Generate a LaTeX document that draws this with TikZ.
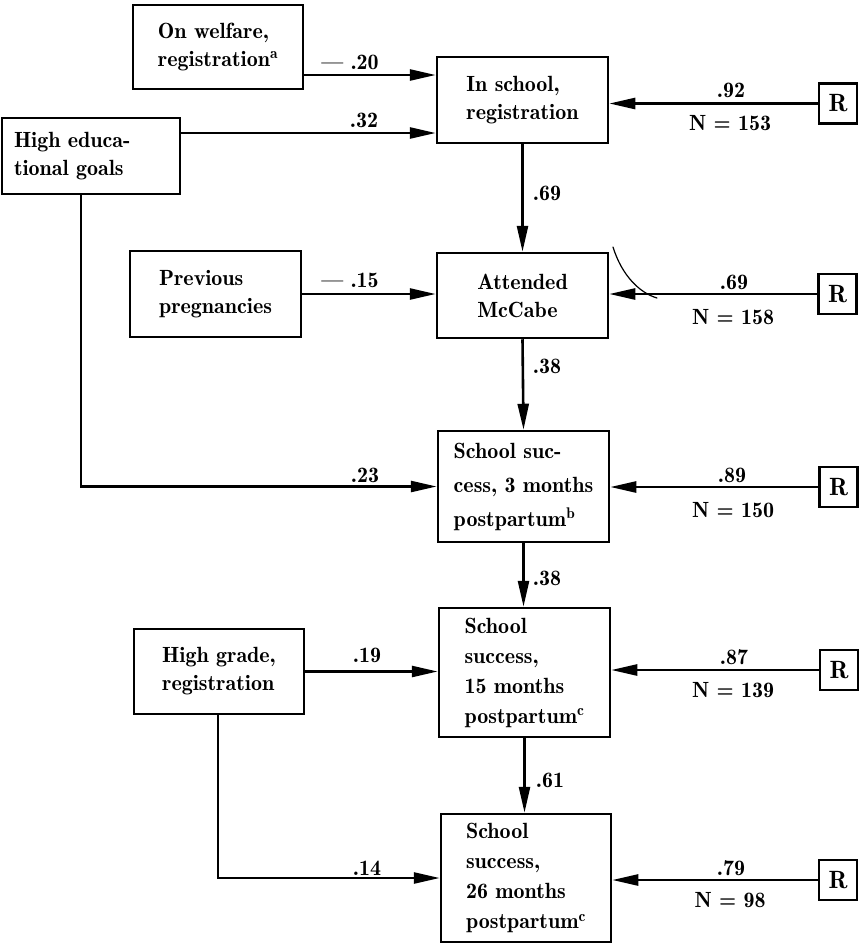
\documentclass[tikz,border=0pt]{standalone}
\usepackage{fontspec}
\setmainfont{lmromandemi10-regular.otf}
\usetikzlibrary{arrows.meta}
\newcommand{\bodysize}[1]{\fontsize{22}{#1}\selectfont}
\begin{document}
\begin{tikzpicture}[x=1pt,y=-1pt,
  every node/.style={inner sep=0pt},
  box/.style={draw, line width=2.5pt, align=left, font=\bodysize{28}},
  rbox/.style={draw, line width=2.5pt, minimum width=38pt, minimum height=40pt, font=\fontsize{25}{28}\selectfont},
  arr/.style={line width=2.6pt, -{Triangle[length=26pt,width=11pt]}},
  lbl/.style={font=\bodysize{28}},
]
\fill[white] (0,0) rectangle (859,945);
\useasboundingbox (0,0) rectangle (859,945);

% variables of the path model
\node[box, minimum width=170pt, minimum height=84pt] (welfare) at (218,47) {On welfare,\\registration\textsuperscript{a}};
\node[box, minimum width=171pt, minimum height=86pt] (inschool) at (522.5,100) {In school,\\registration};
\node[box, text width=154pt, inner xsep=12pt, minimum height=76pt] (goals) at (91,156) {High educa-\\tional goals};
\node[box, minimum width=171pt, minimum height=86pt] (prev) at (215.5,294) {Previous\\pregnancies};
\node[box, minimum width=171pt, minimum height=85pt] (attended) at (522.5,295.5) {Attended\\McCabe};
\node[box, font=\bodysize{34}, minimum width=171pt, minimum height=111pt] (ss3) at (523.5,486.5) {School suc-\\cess, 3 months\\postpartum\textsuperscript{b}};
\node[box, minimum width=170pt, minimum height=85pt] (highgrade) at (219,671.5) {High grade,\\registration};
\node[box, font=\bodysize{30}, minimum width=171pt, minimum height=129pt] (ss15) at (524.5,672.5) {School\\success,\\15 months\\postpartum\textsuperscript{c}};
\node[box, font=\bodysize{30}, minimum width=170pt, minimum height=128pt] (ss26) at (526,878) {School\\success,\\26 months\\postpartum\textsuperscript{c}};

% residual terms
\node[rbox] (r1) at (838,103.5) {R};
\node[rbox] (r2) at (837.5,294) {R};
\node[rbox] (r3) at (838.5,487) {R};
\node[rbox] (r4) at (839,670) {R};
\node[rbox] (r5) at (838,880) {R};

% paths
\draw[arr] (welfare.east |- 0,75) -- (inschool.west |- 0,75);
\draw[arr] (goals.east |- 0,133) -- (inschool.west |- 0,133);
\draw[arr] (inschool.south) -- (attended.north);
\draw[arr] (prev.east) -- (prev.east -| attended.west);
\draw[arr] (attended.south) -- (ss3.north);
\draw[arr] (goals.south -| 81,0) |- (ss3.west);
\draw[arr] (ss3.south) -- (ss3.south |- ss15.north);
\draw[arr] (highgrade.east) -- (highgrade.east -| ss15.west);
\draw[arr] (ss15.south) -- (ss15.south |- ss26.north);
\draw[arr] (highgrade.south -| 218,0) |- (ss26.west);
\draw[arr] (r1.west) -- (r1.west -| inschool.east);
\draw[arr] (r2.west) -- (r2.west -| attended.east);
\draw[arr] (r3.west) -- (r3.west -| ss3.east);
\draw[arr] (r4.west) -- (r4.west -| ss15.east);
\draw[arr] (r5.west) -- (r5.west -| ss26.east);

% pencil stroke beside the McCabe residual arrow
\draw[line width=1.2pt, line cap=round] (613,247) .. controls (622,276) and (640,293) .. (657,298);

% path coefficients
\node[lbl] (c1) at (350,62) {\textemdash\ .20};
\node[lbl] (c2) at (364,120) {.32};
\node[lbl] (c3) at (547,193) {.69};
\node[lbl] (c4) at (350,280) {\textemdash\ .15};
\node[lbl] (c5) at (547,366) {.38};
\node[lbl] (c6) at (365,475) {.23};
\node[lbl] (c7) at (547,578) {.38};
\node[lbl] (c8) at (367,655) {.19};
\node[lbl] (c9) at (550,780) {.61};
\node[lbl] (c10) at (367,868) {.14};

% residual coefficients and sample sizes
\node[lbl] (e1) at (731,90) {.92};
\node[lbl] (n1) at (730,123) {N = 153};
\node[lbl] (e2) at (734,282) {.69};
\node[lbl] (n2) at (733,317) {N = 158};
\node[lbl] (e3) at (732,475) {.89};
\node[lbl] (n3) at (733,510) {N = 150};
\node[lbl] (e4) at (734,657) {.87};
\node[lbl] (n4) at (733,690) {N = 139};
\node[lbl] (e5) at (731,868) {.79};
\node[lbl] (n5) at (730,900) {N = 98};
\end{tikzpicture}
\end{document}
